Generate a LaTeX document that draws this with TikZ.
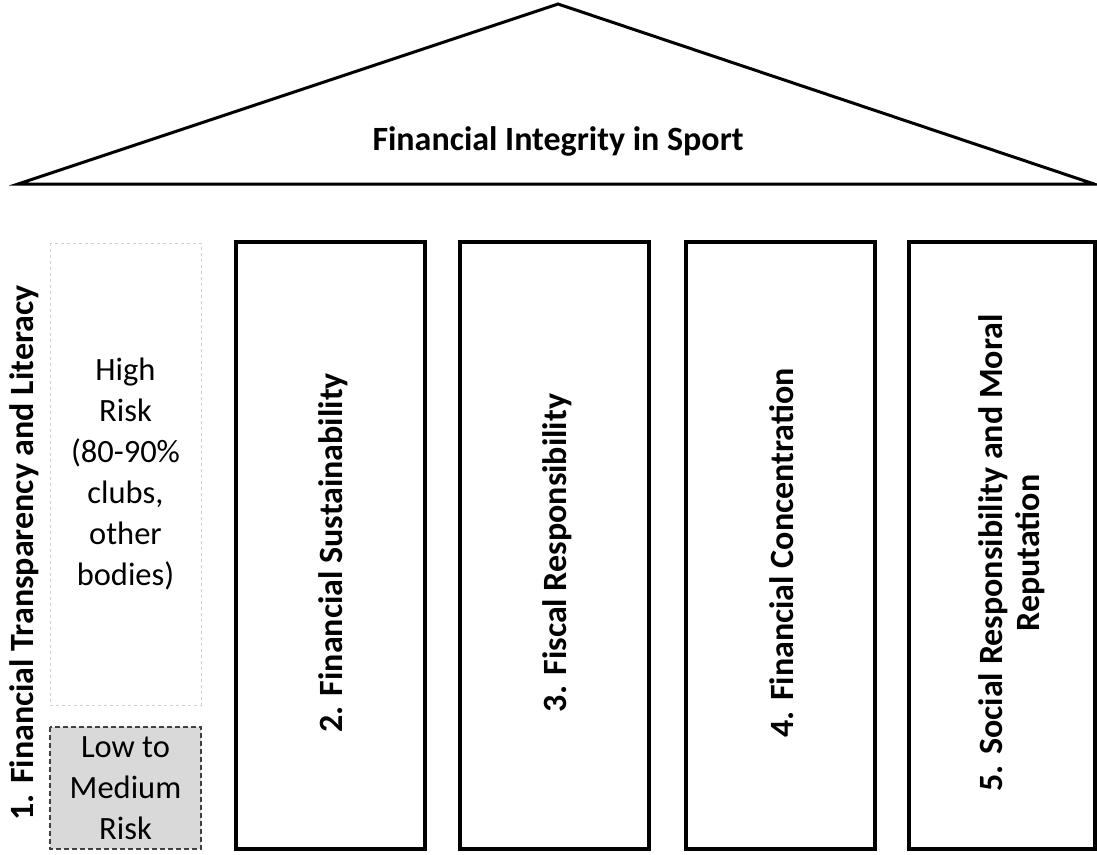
\documentclass[tikz,border=0pt]{standalone}
\usepackage{fontspec}
\setmainfont{Carlito}
\usetikzlibrary{shadows}
\begin{document}
\begin{tikzpicture}[x=1pt,y=-1pt,
  pillar/.style={draw=black,line width=3.5pt,fill=white,
    drop shadow={shadow xshift=1.5pt,shadow yshift=-1.5pt,opacity=0.25}},
  vlabel/.style={rotate=90,font=\fontsize{34}{37}\selectfont\bfseries,align=center},
  risktext/.style={font=\fontsize{32.5}{41}\selectfont,align=center}]
\useasboundingbox (0,0) rectangle (1097,854);
% roof
\coordinate (L) at (18,184);
\coordinate (A) at (558,4);
\coordinate (R) at (1094,184);
\draw[line width=3pt,line join=miter,fill=white,
  drop shadow={shadow xshift=1.5pt,shadow yshift=-1.5pt,opacity=0.25}] (L) -- (A) -- (R) -- cycle;
\node[font=\fontsize{34}{38}\selectfont\bfseries] (title) at (558,141) {Financial Integrity in Sport};
% pillars
\draw[pillar] (236,242) rectangle (425,849);
\draw[pillar] (460,242) rectangle (649,849);
\draw[pillar] (686,242) rectangle (875,849);
\draw[pillar] (909,242) rectangle (1095,849);
\node[vlabel] (p2) at (333,553) {2. Financial Sustainability};
\node[vlabel] (p3) at (557,553) {3. Fiscal Responsibility};
\node[vlabel] (p4) at (782,553) {4. Financial Concentration};
\node[vlabel] (p5) at (1012,553) {5. Social Responsibility and Moral\\Reputation};
% pillar 1
\node[vlabel] (p1) at (24,553) {1. Financial Transparency and Literacy};
\draw[draw=black!18,line width=1pt,dashed,fill=white] (50,243) rectangle (201,705);
\node[risktext] (high) at (125.5,474) {High\\Risk\\(80-90\%\\clubs,\\other\\bodies)};
\draw[draw=black!75,line width=1.5pt,dash pattern=on 5pt off 3pt,fill=black!15] (50,727) rectangle (201,849);
\node[risktext] (low) at (125.5,788) {Low to\\Medium\\Risk};
\end{tikzpicture}
\end{document}
